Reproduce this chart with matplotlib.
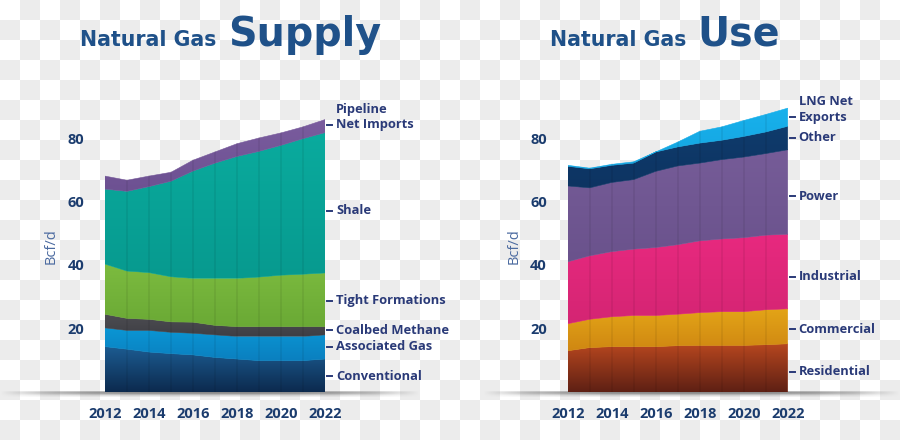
import numpy as np
import matplotlib
matplotlib.use("Agg")
import matplotlib.pyplot as plt
from matplotlib.colors import LinearSegmentedColormap
from matplotlib.patches import Polygon

plt.rcParams['font.family'] = ['Open Sans', 'DejaVu Sans']

# --- data (Bcf/d) ---
years = list(range(2012, 2023))

conventional = [14.3, 13.5, 12.6, 12.1, 11.7, 10.9, 10.4, 9.9, 9.9, 9.9, 10.4]
associated = [5.9, 5.9, 6.8, 6.7, 6.8, 7.1, 7.1, 7.6, 7.6, 7.6, 7.6]
coalbed = [4.3, 3.8, 3.5, 3.3, 3.5, 3.0, 3.1, 3.1, 3.1, 3.1, 2.6]
tight = [15.8, 14.9, 14.7, 14.2, 13.8, 14.8, 15.2, 15.6, 16.2, 16.5, 16.9]
shale = [23.6, 25.1, 27.1, 30.1, 33.8, 36.3, 38.4, 39.6, 40.9, 42.7, 44.2]
pipeline = [4.1, 3.5, 3.3, 2.8, 3.4, 3.5, 4.0, 4.2, 3.9, 3.7, 4.1]

residential = [13.0, 14.0, 14.3, 14.3, 14.3, 14.6, 14.7, 14.7, 14.7, 14.9, 15.2]
commercial = [8.5, 8.9, 9.4, 9.8, 9.8, 9.9, 10.3, 10.6, 10.6, 11.0, 11.0]
industrial = [19.5, 20.0, 20.5, 20.9, 21.4, 21.9, 22.6, 22.9, 23.3, 23.5, 23.5]
power = [23.9, 21.4, 21.8, 21.9, 24.0, 24.8, 24.5, 25.0, 25.4, 25.7, 26.6]
other = [6.2, 6.0, 5.4, 5.2, 6.1, 6.0, 6.3, 6.1, 6.5, 6.8, 7.4]
lng = [0.3, 0.2, 0.3, 0.4, 0.0, 1.5, 3.7, 4.2, 5.0, 5.5, 5.7]

supply_labels = ["Conventional", "Associated Gas", "Coalbed Methane",
                 "Tight Formations", "Shale", "Net Imports"]
supply_label_y = [5.0, 14.3, 19.5, 28.7, 57.1, 84.1]
use_labels = ["Residential", "Commercial", "Industrial", "Power", "Other", "Exports"]
use_label_y = [6.4, 19.7, 36.3, 61.7, 80.1, 86.5]

# colours: (top, bottom) of each layer
supply_colors = [("#1c5c92", "#0c2a4e"), ("#0b96d4", "#0a7fbf"), ("#4d4d52", "#3f3f45"),
                 ("#7cbb3f", "#6aa935"), ("#0aab9e", "#079a8f"), ("#7a5c9e", "#6d5192")]
use_colors = [("#b8471f", "#5e2014"), ("#e3a417", "#cf8712"), ("#e8297f", "#d42573"),
              ("#765c98", "#6a528c"), ("#0f3b6c", "#0d3462"), ("#18b1ec", "#14a4e0")]

navy = "#1b3c6e"
label_col = "#2a3a78"
title_col = "#1f5189"

fig = plt.figure(figsize=(9, 4.4), dpi=100)

# checkerboard background
bg = fig.add_axes([0, 0, 1, 1], zorder=-10)
nx, ny = 45, 22
chk = (np.add.outer(np.arange(ny), np.arange(nx)) % 2).astype(float)
bg.imshow(chk, cmap=LinearSegmentedColormap.from_list("c", ["#ffffff", "#ececec"]),
          extent=[0, 900, 440, 0], interpolation="nearest", aspect="auto")
# floor shadows
for x0, x1 in [(0, 420), (483, 900)]:
    w = int(x1 - x0)
    prof = np.clip(1 - np.abs(np.linspace(-1, 1, w)) ** 3, 0, 1)
    vert = np.array([0.55, 0.9, 0.6, 0.3, 0.12])
    rgba = np.zeros((len(vert), w, 4))
    rgba[..., :3] = 0.45
    rgba[..., 3] = np.outer(vert, prof)
    bg.imshow(rgba, extent=[x0, x1, 397, 391], aspect="auto", interpolation="bilinear")
bg.set_xlim(0, 900)
bg.set_ylim(440, 0)
bg.axis("off")

px = 220 / 10.0       # pixels per year
py = 3.175            # pixels per Bcf/d
ymax = 92


def draw_panel(left, layers, colors, labels, label_y, top_line, ylab_x):
    ax = fig.add_axes([left / 900, 48 / 440, 220 / 900, ymax * py / 440])
    ax.patch.set_alpha(0)
    x = np.array(years, dtype=float)
    base = np.zeros(len(years))
    for vals, (ctop, cbot) in zip(layers, colors):
        upper = base + np.array(vals)
        verts = np.vstack([np.column_stack([x, upper]), np.column_stack([x[::-1], base[::-1]])])
        patch = Polygon(verts, closed=True, facecolor="none", edgecolor=ctop, linewidth=0.4, zorder=2)
        ax.add_patch(patch)
        grad = np.linspace(0, 1, 256).reshape(-1, 1)
        cm = LinearSegmentedColormap.from_list("g", [cbot, ctop])
        im = ax.imshow(grad, extent=[years[0], years[-1], base.min(), upper.max() + 0.01],
                       origin="lower", aspect="auto", cmap=cm, zorder=2)
        im.set_clip_path(patch)
        base = upper
    total = base
    for yr, t in zip(years[1:-1], total[1:-1]):
        ax.plot([yr, yr], [0, t], color="black", alpha=0.07, linewidth=1.2, zorder=3)
    ax.set_xlim(years[0], years[-1])
    ax.set_ylim(0, ymax)
    for s in ax.spines.values():
        s.set_visible(False)
    ax.set_yticks([20, 40, 60, 80])
    ax.set_xticks(years[::2])
    ax.tick_params(length=0, labelsize=10.5, labelcolor=navy)
    ax.tick_params(axis="y", pad=15)
    ax.tick_params(axis="x", pad=11)
    for lab in ax.get_xticklabels() + ax.get_yticklabels():
        lab.set_fontweight("bold")
    ax.text(ylab_x, 0.5, "Bcf/d", transform=ax.transAxes, rotation=90, ha="center", va="center",
            fontsize=10.5, color="#4b6aa0")
    # right-hand series labels
    for lab, y in zip(labels, label_y):
        ax.plot([years[-1] + 2 / px, years[-1] + 7 / px], [y, y], color=label_col,
                linewidth=1.4, clip_on=False)
        ax.text(years[-1] + 11 / px, y, lab, ha="left", va="center", fontsize=9.3,
                fontweight="bold", color=label_col, clip_on=False)
    ax.text(years[-1] + 11 / px, label_y[-1] + 15.5 / py, top_line, ha="left", va="center",
            fontsize=9.3, fontweight="bold", color=label_col, clip_on=False)
    return ax


draw_panel(105, [conventional, associated, coalbed, tight, shale, pipeline], supply_colors,
           supply_labels, supply_label_y, "Pipeline", -0.245)
draw_panel(567.7, [residential, commercial, industrial, power, other, lng], use_colors,
           use_labels, use_label_y, "LNG Net", -0.245)

# titles
tfont = "DejaVu Sans"
fig.text(80 / 900, 1 - 46 / 440, "Natural Gas", fontsize=14.8, fontweight="bold",
         family=tfont, color=title_col, ha="left", va="baseline")
fig.text(228 / 900, 1 - 46 / 440, "Supply", fontsize=28.5, fontweight="bold",
         family=tfont, color=title_col, ha="left", va="baseline")
fig.text(550 / 900, 1 - 46 / 440, "Natural Gas", fontsize=14.8, fontweight="bold",
         family=tfont, color=title_col, ha="left", va="baseline")
fig.text(697 / 900, 1 - 46 / 440, "Use", fontsize=28.5, fontweight="bold",
         family=tfont, color=title_col, ha="left", va="baseline")

fig.savefig("out.png", dpi=100)
